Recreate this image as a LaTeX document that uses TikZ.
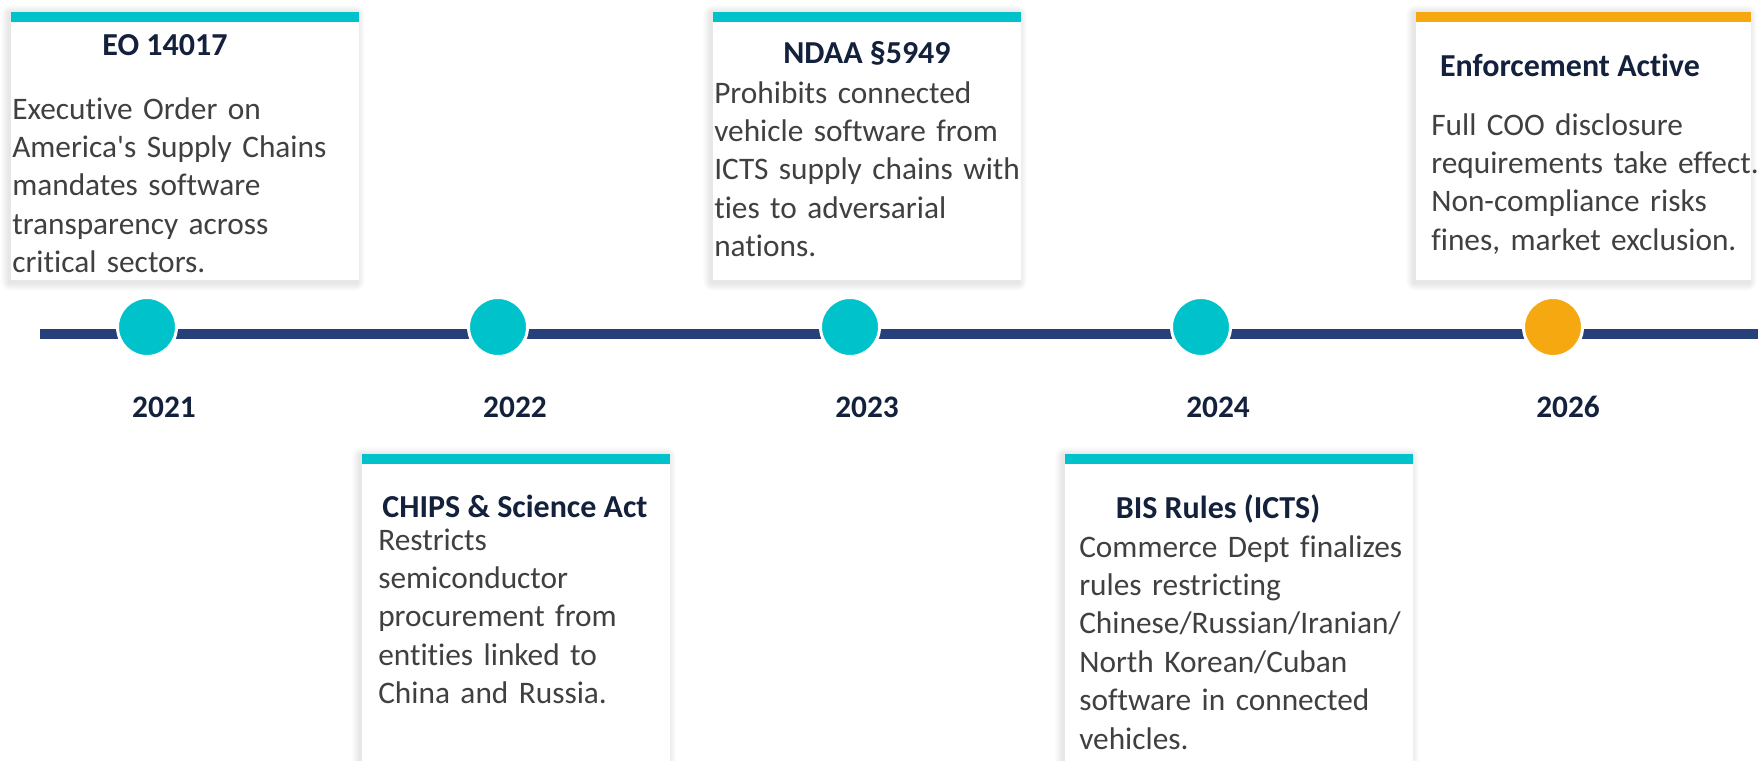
\documentclass[tikz,border=0pt]{standalone}
\usepackage{fontspec}
\newfontfamily\cardfont{Carlito}[Ligatures=NoCommon]
\usepackage{xcolor}
\usepackage{tikz}
\usetikzlibrary{calc}

\definecolor{markteal}{HTML}{00C2CB}
\definecolor{markorange}{HTML}{F5A80F}
\definecolor{linenavy}{HTML}{27407A}
\definecolor{headnavy}{HTML}{14213D}
\definecolor{bodygray}{HTML}{404040}

\tikzset{
  timeline/.style={linenavy, line width=7.5pt},
  dot/.style={circle, minimum size=44.25pt, inner sep=0pt, draw=white, line width=2.25pt},
  year/.style={font=\cardfont\fontsize{23.5}{28}\selectfont\bfseries, text=headnavy, anchor=base, inner sep=0pt},
  head/.style={font=\cardfont\fontsize{24}{28}\selectfont\bfseries, text=headnavy, anchor=base, inner sep=0pt},
  body/.style={font=\cardfont\fontsize{23.5}{28.8}\selectfont, text=bodygray, anchor=base west,
    inner sep=0pt, text width=300pt, align=left}
}

% card: x1, y1, x2, y2, bar colour
\newcommand\eventcard[5]{%
  \foreach \s in {1,...,8}
    \fill[black, opacity=.012, rounded corners=\s pt] (#1-2-\s,#2+1-\s) rectangle (#3-2+\s,#4+3+\s);
  \fill[white] (#1,#2) rectangle (#3,#4);
  \fill[#5] (#1,#2) rectangle (#3,#2+10);
}

\begin{document}
\begin{tikzpicture}[x=0.75pt, y=-0.75pt]
\useasboundingbox (0,0) rectangle (1758,760);
\clip (0,0) rectangle (1758,760);

% cards above and below the line
\eventcard{11}{12}{359}{280}{markteal}
\eventcard{362}{454}{670}{790}{markteal}
\eventcard{713}{12}{1021}{280}{markteal}
\eventcard{1065}{454}{1413}{790}{markteal}
\eventcard{1416}{12}{1751}{280}{markorange}

% the line itself
\coordinate (tstart) at (40,334);
\coordinate (tend) at (1758,334);
\draw[timeline] (tstart) -- (tend);

\node[dot, fill=markteal] (d2021) at (147,327) {};
\node[dot, fill=markteal] (d2022) at (498,327) {};
\node[dot, fill=markteal] (d2023) at (850,327) {};
\node[dot, fill=markteal] (d2024) at (1201,327) {};
\node[dot, fill=markorange] (d2026) at (1553,327) {};

\node[year] (y2021) at (164,417) {2021};
\node[year] (y2022) at (515,417) {2022};
\node[year] (y2023) at (867,417) {2023};
\node[year] (y2024) at (1218,417) {2024};
\node[year] (y2026) at (1568,417) {2026};

% 2021
\node[head] (eo) at (165,55) {EO 14017};
\node[body] (eotext) at (12,119) {Executive Order on\\America's Supply Chains\\mandates software\\transparency across\\critical sectors.};

% 2022
\node[head] (chips) at (515,517) {CHIPS \& Science Act};
\node[body] (chipstext) at (378,550) {Restricts\\semiconductor\\procurement from\\entities linked to\\China and Russia.};

% 2023
\node[head] (ndaa) at (867,63) {NDAA §5949};
\node[body] (ndaatext) at (714,103) {Prohibits connected\\vehicle software from\\ICTS supply chains with\\ties to adversarial\\nations.};

% 2024
\node[head] (bis) at (1218,518) {BIS Rules (ICTS)};
\node[body] (bistext) at (1079,557) {Commerce Dept finalizes\\rules restricting\\Chinese/Russian/Iranian/\\North Korean/Cuban\\software in connected\\vehicles.};

% 2026
\node[head] (enf) at (1570,76) {Enforcement Active};
\node[body] (enftext) at (1431,135) {Full COO disclosure\\requirements take effect.\\Non-compliance risks\\fines, market exclusion.};
\end{tikzpicture}
\end{document}
